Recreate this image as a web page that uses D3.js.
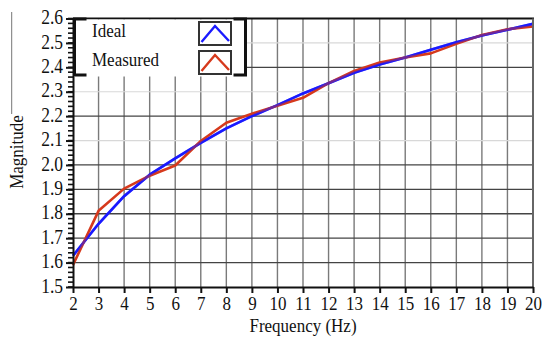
<!DOCTYPE html>
<html>
<head>
<meta charset="utf-8">
<script src="https://cdn.jsdelivr.net/npm/d3@7"></script>
<style>
  html, body { margin: 0; padding: 0; background: #fff; }
  svg { display: block; }
  text { font-family: "Liberation Serif", "Times New Roman", serif; fill: #111; }
</style>
</head>
<body>
<svg id="chart" width="542" height="344"></svg>
<script>
// Frequency points (Hz)
const frequencies = [2, 3, 4, 5, 6, 7, 8, 9, 10, 11, 12, 13, 14, 15, 16, 17, 18, 19, 20];
// Ideal response magnitude
const idealValues = [1.628, 1.759, 1.872, 1.960, 2.027, 2.090, 2.150, 2.200, 2.245, 2.293,
                     2.335, 2.378, 2.412, 2.440, 2.472, 2.503, 2.530, 2.554, 2.578];
// Measured response magnitude
const measuredValues = [1.590, 1.812, 1.903, 1.956, 1.998, 2.098, 2.173, 2.210, 2.243, 2.275,
                        2.335, 2.385, 2.420, 2.440, 2.457, 2.496, 2.532, 2.556, 2.567];
const xTicks = [2, 3, 4, 5, 6, 7, 8, 9, 10, 11, 12, 13, 14, 15, 16, 17, 18, 19, 20];
const yTicks = [1.5, 1.6, 1.7, 1.8, 1.9, 2.0, 2.1, 2.2, 2.3, 2.4, 2.5, 2.6];
const seriesNames = ["Ideal", "Measured"];

const W = 542, H = 344;
const margin = { left: 73, right: 9, top: 18.5, bottom: 57 };
const svg = d3.select("#chart");

const x = d3.scaleLinear().domain([2, 20]).range([margin.left, W - margin.right]);
const y = d3.scaleLinear().domain([1.5, 2.6]).range([H - margin.bottom, margin.top]);
const colors = ["#1a1aff", "#d6391c"];
const TEXT_STRETCH = "scale(1,1.14)";

// grid: vertical lines
svg.append("g").selectAll("line").data(xTicks.slice(1, -1)).join("line")
  .attr("x1", d => x(d)).attr("x2", d => x(d))
  .attr("y1", y(2.6)).attr("y2", y(1.5))
  .attr("stroke", "#7a7a7a").attr("stroke-width", 1.4);

// grid: horizontal lines (alternate rows near the top are drawn faint)
const faintRows = new Set(["2.1", "2.3", "2.5"]);
svg.append("g").selectAll("line").data(yTicks.slice(1, -1)).join("line")
  .attr("x1", x(2)).attr("x2", x(20))
  .attr("y1", d => y(d)).attr("y2", d => y(d))
  .attr("stroke", d => faintRows.has(d.toFixed(1)) ? "#d8d8d8" : "#444")
  .attr("stroke-width", d => faintRows.has(d.toFixed(1)) ? 1.2 : 1.3);

// series lines
const line = d3.line().x((d, i) => x(frequencies[i])).y(d => y(d));
[idealValues, measuredValues].forEach((vals, k) => {
  svg.append("path").datum(vals)
    .attr("d", line)
    .attr("fill", "none")
    .attr("stroke", colors[k])
    .attr("stroke-width", 2.6)
    .attr("stroke-linejoin", "round");
});
// ideal drawn over measured
svg.append("path").datum(idealValues)
  .attr("d", line).attr("fill", "none")
  .attr("stroke", colors[0]).attr("stroke-width", 2.6)
  .attr("stroke-opacity", 0.55);

// frame: top (black) and right (grey)
svg.append("line").attr("x1", x(2)).attr("x2", x(20) + 1).attr("y1", y(2.6)).attr("y2", y(2.6))
  .attr("stroke", "#111").attr("stroke-width", 2);
svg.append("line").attr("x1", x(20)).attr("x2", x(20)).attr("y1", y(2.6)).attr("y2", y(1.5))
  .attr("stroke", "#666").attr("stroke-width", 2);

// y axis with minor ticks
const yMinor = d3.range(75, 131).map(v => v / 50);
svg.append("g").selectAll("line").data(yMinor).join("line")
  .attr("x1", x(2) - 5).attr("x2", x(2))
  .attr("y1", d => y(d)).attr("y2", d => y(d))
  .attr("stroke", "#111").attr("stroke-width", 1.6);

const yAxis = svg.append("g").attr("transform", `translate(${x(2)},0)`)
  .call(d3.axisLeft(y).tickValues(yTicks).tickFormat(d3.format(".1f")).tickSize(7).tickPadding(3).tickSizeOuter(0));
yAxis.select(".domain").attr("stroke", "#111").attr("stroke-width", 2);
yAxis.selectAll(".tick line").attr("stroke", "#111").attr("stroke-width", 2);
yAxis.selectAll(".tick text").attr("font-size", 17.5).attr("fill", "#111")
  .attr("font-family", "Liberation Serif").attr("transform", TEXT_STRETCH).attr("dy", "0.26em");

// x axis
const xAxis = svg.append("g").attr("transform", `translate(0,${y(1.5)})`)
  .call(d3.axisBottom(x).tickValues(xTicks).tickFormat(d3.format("d")).tickSize(6).tickPadding(2).tickSizeOuter(0));
xAxis.select(".domain").attr("stroke", "#111").attr("stroke-width", 2);
xAxis.selectAll(".tick line").attr("stroke", "#111").attr("stroke-width", 2);
xAxis.selectAll(".tick text").attr("font-size", 17).attr("fill", "#111")
  .attr("font-family", "Liberation Serif").attr("transform", TEXT_STRETCH);

// axis titles
svg.append("text").attr("text-anchor", "middle").attr("font-size", 17)
  .attr("transform", `translate(${(x(2) + x(20)) / 2},332) scale(1,1.1)`)
  .text("Frequency (Hz)");
svg.append("text").attr("text-anchor", "middle").attr("font-size", 17)
  .attr("transform", `translate(23,152) rotate(-90) scale(1.0,1.14)`)
  .text("Magnitude");
svg.append("line").attr("x1", 11.7).attr("x2", 11.7).attr("y1", 12).attr("y2", 114)
  .attr("stroke", "#777").attr("stroke-width", 1);

// legend
const lg = svg.append("g");
lg.append("rect").attr("x", x(2) + 1).attr("y", y(2.6) + 1)
  .attr("width", 173).attr("height", 57).attr("fill", "#fff");
const bracket = (x0, dir) => {
  const y0 = y(2.6) + 0.5, y1 = y(2.6) + 56.5;
  lg.append("path")
    .attr("d", `M${x0 + dir * 12},${y0} H${x0} V${y1} H${x0 + dir * 12}`)
    .attr("fill", "none").attr("stroke", "#111").attr("stroke-width", 3);
};
bracket(x(2) + 1.5, 1);
bracket(x(2) + 172.5, -1);

seriesNames.forEach((name, k) => {
  const top = 22 + k * 29;
  lg.append("text").attr("font-size", 17)
    .attr("transform", `translate(92,${top + 15}) ${TEXT_STRETCH}`)
    .text(name);
  lg.append("rect").attr("x", 199).attr("y", top).attr("width", 32).attr("height", 23)
    .attr("fill", "#fff").attr("stroke", "#333").attr("stroke-width", 2);
  lg.append("path")
    .attr("d", `M201.5,${top + 20} L215,${top + 4} L229,${top + 19}`)
    .attr("fill", "none").attr("stroke", colors[k]).attr("stroke-width", 2.4);
});
</script>
</body>
</html>
